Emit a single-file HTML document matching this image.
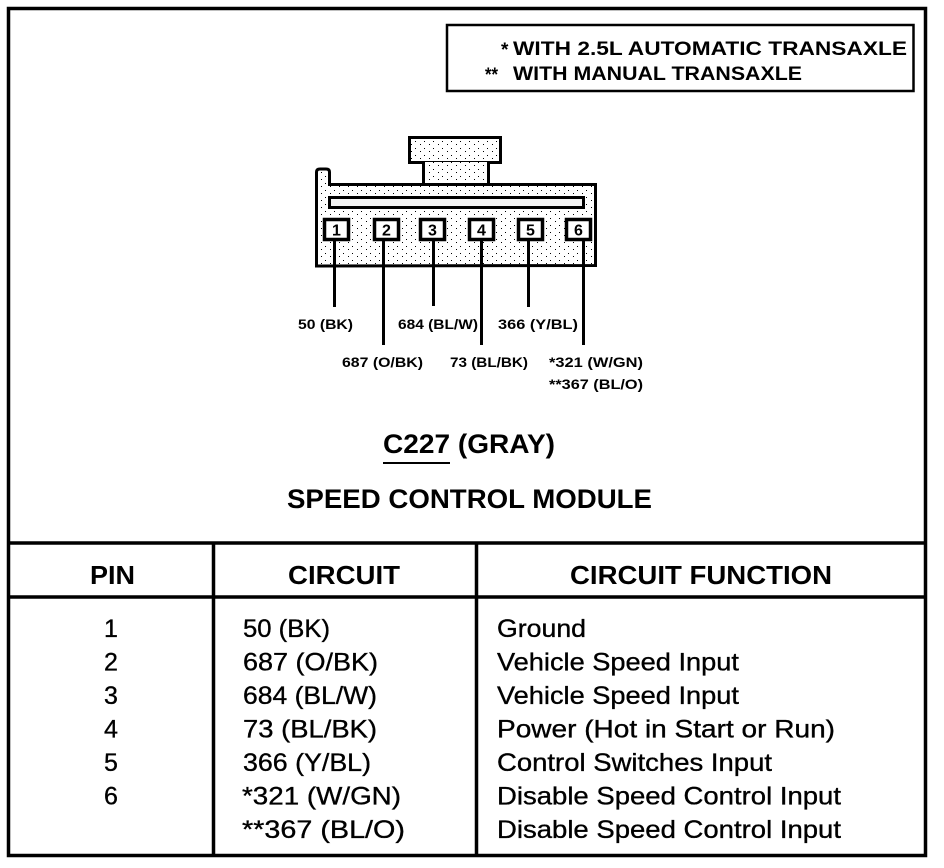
<!DOCTYPE html>
<html>
<head>
<meta charset="utf-8">
<style>
  html,body{margin:0;padding:0;background:#fff;}
  body{width:944px;height:868px;overflow:hidden;}
  svg{display:block;}
  text{font-family:"Liberation Sans",Arial,sans-serif;fill:#000;}
  .b{font-weight:bold;}
  .r{stroke:#000;stroke-width:0.35px;}
</style>
</head>
<body>
<svg width="944" height="868" viewBox="0 0 944 868" xmlns="http://www.w3.org/2000/svg">
  <defs>
    <pattern id="stip" x="0" y="0" width="9" height="7" patternUnits="userSpaceOnUse">
      <rect width="9" height="7" fill="#fff"/>
      <rect x="1" y="1" width="1" height="1" fill="#000"/>
      <rect x="6" y="4" width="1" height="1" fill="#000"/>
    </pattern>
  </defs>

  <!-- outer frame -->
  <rect x="8.5" y="8.5" width="917" height="847" fill="none" stroke="#000" stroke-width="3.5"/>

  <!-- legend box -->
  <rect x="447" y="25" width="466.5" height="66" fill="none" stroke="#000" stroke-width="2.5"/>
  <text class="b" x="501" y="56" font-size="19">*</text>
  <text class="b" x="513" y="55" font-size="19" textLength="394" lengthAdjust="spacingAndGlyphs">WITH 2.5L AUTOMATIC TRANSAXLE</text>
  <text class="b" x="485" y="81" font-size="19" textLength="13" lengthAdjust="spacingAndGlyphs">**</text>
  <text class="b" x="513" y="80" font-size="19" textLength="289" lengthAdjust="spacingAndGlyphs">WITH MANUAL TRANSAXLE</text>

  <!-- connector: top tab -->
  <rect x="409.5" y="137.5" width="91" height="25" fill="url(#stip)" stroke="#000" stroke-width="3"/>
  <!-- neck -->
  <rect x="423.5" y="162" width="65" height="22" fill="url(#stip)" stroke="none"/>
  <line x1="423.5" y1="162" x2="423.5" y2="185" stroke="#000" stroke-width="3"/>
  <line x1="488.5" y1="162" x2="488.5" y2="185" stroke="#000" stroke-width="3"/>
  <!-- body -->
  <path d="M316.5,266 L316.5,172 Q316.5,169 320,169 L326,169 Q329.5,169 329.5,172 L329.5,184.5 L595.5,184.5 L595.5,265.5 Z"
        fill="url(#stip)" stroke="#000" stroke-width="3" stroke-linejoin="miter"/>
  <!-- slot bar -->
  <rect x="329.5" y="197.5" width="254" height="10" fill="#f4f4f4" stroke="#000" stroke-width="3"/>

  <!-- pin boxes -->
  <g stroke="#000" stroke-width="3.5" fill="#fff">
    <rect x="324.5" y="219.5" width="24" height="20"/>
    <rect x="374.5" y="219.5" width="24" height="20"/>
    <rect x="420.5" y="219.5" width="24" height="20"/>
    <rect x="469.5" y="219.5" width="24" height="20"/>
    <rect x="518.5" y="219.5" width="24" height="20"/>
    <rect x="566.5" y="219.5" width="24" height="20"/>
  </g>
  <g font-size="16" text-anchor="middle">
    <text class="b" x="336.5" y="235.5">1</text>
    <text class="b" x="386.5" y="235.5">2</text>
    <text class="b" x="432.5" y="235.5">3</text>
    <text class="b" x="481.5" y="235.5">4</text>
    <text class="b" x="530.5" y="235.5">5</text>
    <text class="b" x="578.5" y="235.5">6</text>
  </g>

  <!-- wires -->
  <g stroke="#000" stroke-width="3">
    <line x1="334.5" y1="241" x2="334.5" y2="307"/>
    <line x1="383.5" y1="241" x2="383.5" y2="345"/>
    <line x1="433.5" y1="241" x2="433.5" y2="306"/>
    <line x1="481.5" y1="241" x2="481.5" y2="345"/>
    <line x1="528.5" y1="241" x2="528.5" y2="307"/>
    <line x1="583.5" y1="241" x2="583.5" y2="345"/>
  </g>

  <!-- wire labels -->
  <text class="b" x="298" y="329" font-size="14" textLength="55" lengthAdjust="spacingAndGlyphs">50 (BK)</text>
  <text class="b" x="398" y="329" font-size="14" textLength="80" lengthAdjust="spacingAndGlyphs">684 (BL/W)</text>
  <text class="b" x="498" y="329" font-size="14" textLength="80" lengthAdjust="spacingAndGlyphs">366 (Y/BL)</text>
  <text class="b" x="342" y="367" font-size="14" textLength="81" lengthAdjust="spacingAndGlyphs">687 (O/BK)</text>
  <text class="b" x="450" y="367" font-size="14" textLength="78" lengthAdjust="spacingAndGlyphs">73 (BL/BK)</text>
  <text class="b" x="549" y="367" font-size="14" textLength="94" lengthAdjust="spacingAndGlyphs">*321 (W/GN)</text>
  <text class="b" x="549" y="389" font-size="14" textLength="94" lengthAdjust="spacingAndGlyphs">**367 (BL/O)</text>

  <!-- title -->
  <text class="b" x="383" y="453" font-size="27" textLength="172" lengthAdjust="spacingAndGlyphs">C227 (GRAY)</text>
  <line x1="383" y1="463" x2="450" y2="463" stroke="#000" stroke-width="2"/>
  <text class="b" x="287" y="508" font-size="27" textLength="365" lengthAdjust="spacingAndGlyphs">SPEED CONTROL MODULE</text>

  <!-- table lines -->
  <g stroke="#000" stroke-width="3.5">
    <line x1="7" y1="543" x2="927" y2="543"/>
    <line x1="7" y1="597" x2="927" y2="597"/>
    <line x1="213.5" y1="543" x2="213.5" y2="857"/>
    <line x1="476.5" y1="543" x2="476.5" y2="857"/>
  </g>

  <!-- headers -->
  <text class="b" x="90" y="584" font-size="26" textLength="45" lengthAdjust="spacingAndGlyphs">PIN</text>
  <text class="b" x="288" y="584" font-size="26" textLength="112" lengthAdjust="spacingAndGlyphs">CIRCUIT</text>
  <text class="b" x="570" y="584" font-size="26" textLength="262" lengthAdjust="spacingAndGlyphs">CIRCUIT FUNCTION</text>

  <!-- pin column -->
  <g font-size="25" text-anchor="middle">
    <text class="r" x="111" y="637">1</text>
    <text class="r" x="111" y="670.5">2</text>
    <text class="r" x="111" y="704">3</text>
    <text class="r" x="111" y="737.5">4</text>
    <text class="r" x="111" y="771">5</text>
    <text class="r" x="111" y="804.5">6</text>
  </g>

  <!-- circuit column -->
  <g font-size="25">
    <text class="r" x="243" y="637" textLength="87" lengthAdjust="spacingAndGlyphs">50 (BK)</text>
    <text class="r" x="243" y="670.5" textLength="135" lengthAdjust="spacingAndGlyphs">687 (O/BK)</text>
    <text class="r" x="243" y="704" textLength="134" lengthAdjust="spacingAndGlyphs">684 (BL/W)</text>
    <text class="r" x="243" y="737.5" textLength="134" lengthAdjust="spacingAndGlyphs">73 (BL/BK)</text>
    <text class="r" x="243" y="771" textLength="128" lengthAdjust="spacingAndGlyphs">366 (Y/BL)</text>
    <text class="r" x="242" y="804.5" textLength="159" lengthAdjust="spacingAndGlyphs">*321 (W/GN)</text>
    <text class="r" x="242" y="838" textLength="163" lengthAdjust="spacingAndGlyphs">**367 (BL/O)</text>
  </g>

  <!-- function column -->
  <g font-size="25">
    <text class="r" x="497" y="637" textLength="89" lengthAdjust="spacingAndGlyphs">Ground</text>
    <text class="r" x="497" y="670.5" textLength="242" lengthAdjust="spacingAndGlyphs">Vehicle Speed Input</text>
    <text class="r" x="497" y="704" textLength="242" lengthAdjust="spacingAndGlyphs">Vehicle Speed Input</text>
    <text class="r" x="497" y="737.5" textLength="338" lengthAdjust="spacingAndGlyphs">Power (Hot in Start or Run)</text>
    <text class="r" x="497" y="771" textLength="275" lengthAdjust="spacingAndGlyphs">Control Switches Input</text>
    <text class="r" x="497" y="804.5" textLength="344" lengthAdjust="spacingAndGlyphs">Disable Speed Control Input</text>
    <text class="r" x="497" y="838" textLength="344" lengthAdjust="spacingAndGlyphs">Disable Speed Control Input</text>
  </g>
</svg>
</body>
</html>
